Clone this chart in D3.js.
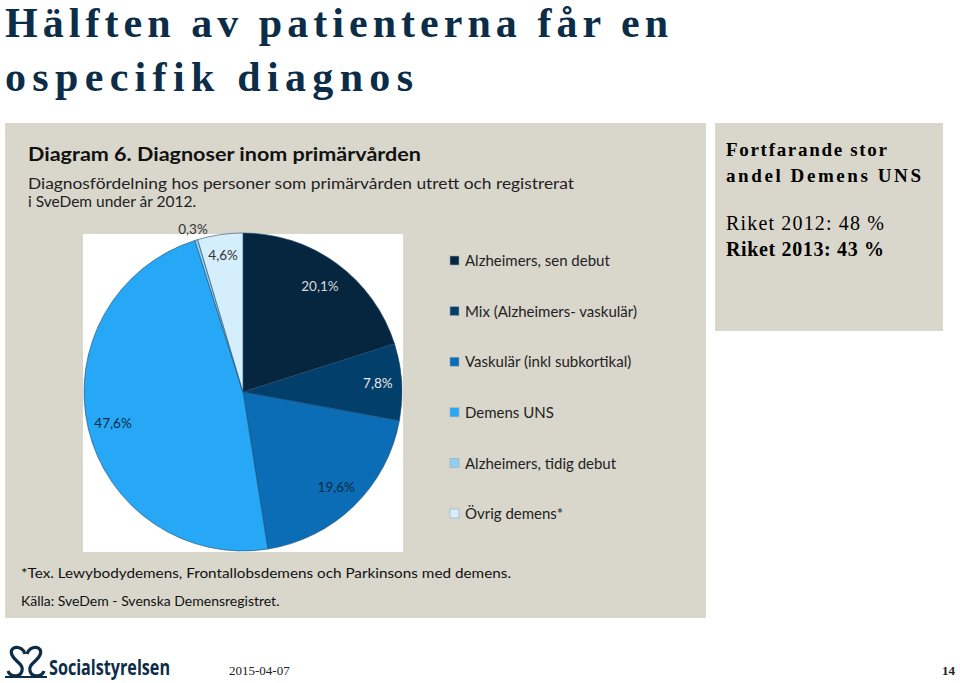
<!DOCTYPE html>
<html>
<head>
<meta charset="utf-8">
<script src="https://cdn.jsdelivr.net/npm/d3@7"></script>
<style>
  body { margin: 0; background: #fff; }
  svg { display: block; }
</style>
</head>
<body>
<svg id="chart" width="960" height="683"></svg>
<script>
// data
var categories = ['Alzheimers, sen debut', 'Mix (Alzheimers- vaskulär)', 'Vaskulär (inkl subkortikal)',
                  'Demens UNS', 'Alzheimers, tidig debut', 'Övrig demens*'];
var values = [20.1, 7.8, 19.6, 47.6, 0.3, 4.6];
var labels = ['20,1%', '7,8%', '19,6%', '47,6%', '0,3%', '4,6%'];
var colors = ['#06263f', '#033f6b', '#0a6db5', '#27a8f6', '#8fd0f2', '#d5eefc'];

var svg = d3.select('#chart');
var navy = '#0c2d48';
var gothic = '"Lato", "Open Sans", sans-serif';

// slide heading
var head = svg.append('g')
    .attr('font-family', '"Liberation Serif", serif')
    .attr('font-weight', 'bold')
    .attr('font-size', 42)
    .attr('fill', navy);
head.append('text').attr('x', 5).attr('y', 37)
    .attr('textLength', 663).attr('lengthAdjust', 'spacing')
    .text('Hälften av patienterna får en');
head.append('text').attr('x', 5).attr('y', 91)
    .attr('textLength', 408).attr('lengthAdjust', 'spacing')
    .text('ospecifik diagnos');

// grey chart panel
svg.append('rect').attr('x', 5).attr('y', 123).attr('width', 701).attr('height', 495).attr('fill', '#d9d7cc');
svg.append('text').attr('x', 28).attr('y', 161)
    .attr('font-family', gothic).attr('font-weight', 'bold').attr('font-size', 19)
    .attr('fill', '#111').attr('textLength', 393).attr('lengthAdjust', 'spacingAndGlyphs')
    .text('Diagram 6. Diagnoser inom primärvården');
svg.append('text').attr('x', 28).attr('y', 189)
    .attr('font-family', gothic).attr('font-size', 15.5).attr('fill', '#222')
    .attr('textLength', 546).attr('lengthAdjust', 'spacingAndGlyphs')
    .text('Diagnosfördelning hos personer som primärvården utrett och registrerat');
svg.append('text').attr('x', 28).attr('y', 207)
    .attr('font-family', gothic).attr('font-size', 15.5).attr('fill', '#222')
    .text('i SveDem under år 2012.');

// white plot area
svg.append('rect').attr('x', 83).attr('y', 234).attr('width', 320).attr('height', 318).attr('fill', '#fff');

var cx = 243, cy = 392, r = 159;
var pie = d3.pie().sort(null).value(function(d) { return d; });
var arcs = pie(values);
var arc = d3.arc().innerRadius(0).outerRadius(r);
var g = svg.append('g').attr('transform', 'translate(' + cx + ',' + cy + ')');
g.selectAll('path').data(arcs).enter().append('path')
    .attr('d', arc)
    .attr('fill', function(d, i) { return colors[i]; })
    .attr('stroke', '#1d4a6e').attr('stroke-width', 0.6);

// label radii tuned per slice
var labelR = [0.82, 0.85, 0.84, 0.84, 1.07, 0.87];
var labelFill = ['#d8d8d8', '#e8e8e8', '#0b2a45', '#0b2a45', '#333', '#333'];
g.selectAll('text.lbl').data(arcs).enter().append('text')
    .attr('class', 'lbl')
    .attr('transform', function(d, i) {
        var a = (d.startAngle + d.endAngle) / 2;
        var rr = r * labelR[i];
        return 'translate(' + (Math.sin(a) * rr) + ',' + (-Math.cos(a) * rr) + ')';
    })
    .attr('text-anchor', 'middle').attr('dy', '0.35em')
    .attr('font-family', gothic).attr('font-size', 13.5)
    .attr('fill', function(d, i) { return labelFill[i]; })
    .text(function(d, i) { return labels[i]; });

// legend
var leg = svg.append('g').selectAll('g').data(categories).enter().append('g')
    .attr('transform', function(d, i) { return 'translate(450,' + (261 + i * 50.6) + ')'; });
leg.append('rect').attr('x', 0).attr('y', -5).attr('width', 9).attr('height', 9)
    .attr('fill', function(d, i) { return colors[i]; })
    .attr('stroke', '#9aa9b5').attr('stroke-width', 0.6);
leg.append('text').attr('x', 15).attr('dy', '0.35em')
    .attr('font-family', gothic).attr('font-size', 15).attr('fill', '#222')
    .text(function(d) { return d; });

// notes
svg.append('text').attr('x', 21).attr('y', 578)
    .attr('font-family', gothic).attr('font-size', 14).attr('fill', '#111')
    .attr('textLength', 490).attr('lengthAdjust', 'spacingAndGlyphs')
    .text('*Tex. Lewybodydemens, Frontallobsdemens och Parkinsons med demens.');
svg.append('text').attr('x', 21).attr('y', 606)
    .attr('font-family', gothic).attr('font-size', 14).attr('fill', '#111')
    .text('Källa: SveDem - Svenska Demensregistret.');

// side box
svg.append('rect').attr('x', 715).attr('y', 123).attr('width', 228).attr('height', 208).attr('fill', '#d9d7cc');
var side = svg.append('g').attr('font-family', '"Liberation Serif", serif').attr('fill', '#000');
side.append('text').attr('x', 726).attr('y', 156).attr('font-size', 19).attr('font-weight', 'bold')
    .attr('textLength', 161).attr('lengthAdjust', 'spacing').text('Fortfarande stor');
side.append('text').attr('x', 726).attr('y', 182).attr('font-size', 19).attr('font-weight', 'bold')
    .attr('textLength', 195).attr('lengthAdjust', 'spacing').text('andel Demens UNS');
side.append('text').attr('x', 726).attr('y', 230).attr('font-size', 20)
    .attr('textLength', 158).attr('lengthAdjust', 'spacing').text('Riket 2012: 48 %');
side.append('text').attr('x', 726).attr('y', 256).attr('font-size', 20).attr('font-weight', 'bold')
    .attr('textLength', 158).attr('lengthAdjust', 'spacing').text('Riket 2013: 43 %');

// footer logo
var logo = svg.append('g').attr('fill', 'none').attr('stroke', navy).attr('stroke-width', 3.2);
logo.append('path').attr('d', 'M25,654 C22,644 8,646 12,655 C15,662 24,664 22,671 C20,678 10,677 8,671');
logo.append('path').attr('d', 'M27,654 C30,644 44,646 40,655 C37,662 28,664 30,671 C32,678 42,677 44,671');
logo.append('path').attr('d', 'M5,677 L47,677').attr('stroke-width', 2);
svg.append('text').attr('x', 49).attr('y', 675)
    .attr('font-family', '"Open Sans", sans-serif').attr('font-weight', 'bold').attr('font-size', 22)
    .attr('fill', navy).attr('textLength', 121).attr('lengthAdjust', 'spacingAndGlyphs')
    .text('Socialstyrelsen');
svg.append('text').attr('x', 229).attr('y', 675)
    .attr('font-family', '"Liberation Serif", serif').attr('font-size', 13).attr('fill', '#222')
    .text('2015-04-07');
svg.append('text').attr('x', 955).attr('y', 675).attr('text-anchor', 'end')
    .attr('font-family', '"Liberation Serif", serif').attr('font-weight', 'bold').attr('font-size', 13).attr('fill', '#222')
    .text('14');
</script>
</body>
</html>
